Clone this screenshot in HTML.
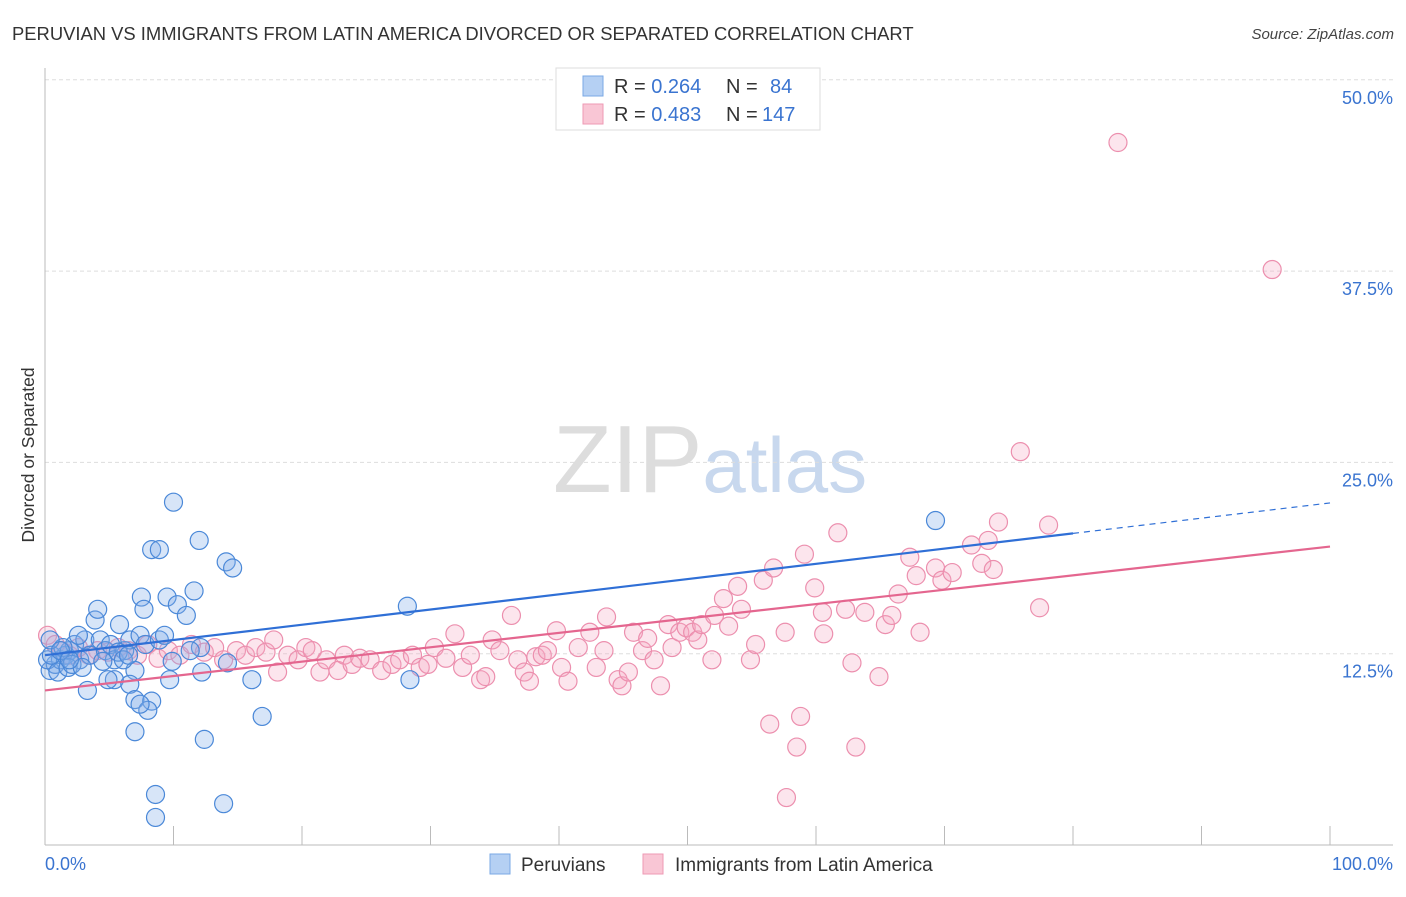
<!DOCTYPE html>
<html><head><meta charset="utf-8"><style>
body{margin:0;background:#fff;font-family:"Liberation Sans",sans-serif;}
svg text{font-family:"Liberation Sans",sans-serif;}
</style></head><body>
<svg id="chart" width="1406" height="892" xmlns="http://www.w3.org/2000/svg">
<text x="12" y="40" font-size="18.4" fill="#333">PERUVIAN VS IMMIGRANTS FROM LATIN AMERICA DIVORCED OR SEPARATED CORRELATION CHART</text>
<text x="1394" y="39" font-size="15" fill="#444" text-anchor="end" font-style="italic">Source: ZipAtlas.com</text>
<text x="553" y="492" font-size="96" fill="#ddd" font-family="Liberation Serif">ZIP<tspan fill="#c8d8ee" font-family="Liberation Sans" font-size="78">atlas</tspan></text>
<g id="grid"></g>
<g id="axes"></g>
<g id="pinkpts"></g>
<g id="bluepts"></g>
<g id="trends"></g>
<text transform="translate(34,455) rotate(-90)" font-size="17.5" fill="#333" text-anchor="middle">Divorced or Separated</text>
<text x="45" y="870" font-size="18" fill="#3a74d0">0.0%</text>
<text x="1393" y="870" font-size="18" fill="#3a74d0" text-anchor="end">100.0%</text>
<g>
<rect x="556" y="68" width="264" height="62" fill="#fff" stroke="#ddd"/>
<rect x="583" y="76" width="20" height="20" fill="#b5d0f3" stroke="#7aa8e4"/>
<rect x="583" y="104" width="20" height="20" fill="#f9c6d5" stroke="#ee9ab4"/>
<text x="614" y="93" font-size="20" fill="#333">R = <tspan fill="#3a74d0">0.264</tspan><tspan x="726">N = </tspan><tspan x="770" fill="#3a74d0">84</tspan></text>
<text x="614" y="121" font-size="20" fill="#333">R = <tspan fill="#3a74d0">0.483</tspan><tspan x="726">N = </tspan><tspan x="762" fill="#3a74d0">147</tspan></text>
</g>
<g>
<rect x="490" y="854" width="20" height="20" fill="#b5d0f3" stroke="#7aa8e4"/>
<text x="521" y="871" font-size="19" fill="#333">Peruvians</text>
<rect x="643" y="854" width="20" height="20" fill="#f9c6d5" stroke="#ee9ab4"/>
<text x="675" y="871" font-size="19" fill="#333">Immigrants from Latin America</text>
</g>
</svg>
<script>
const yTicks=[12.5,25,37.5,50];
const yTickLabels=["12.5%","25.0%","37.5%","50.0%"];
const blueX=[0.4,0.8,1.2,1.6,1.9,2.3,2.7,3.1,3.5,3.9,4.3,4.7,5.1,5.4,5.8,6.2,6.6,7.0,7.4,7.8,4.1,3.3,5.4,6.6,4.9,7.0,10.0,8.3,8.9,12.0,14.1,14.6,7.5,9.5,10.3,11.6,11.0,7.7,8.3,8.0,7.4,7.0,16.9,12.4,8.6,8.6,13.9,28.2,28.4,69.3,16.1,12.2,14.2,9.9,9.7,12.1,0.2,0.5,1.0,1.4,1.8,2.1,2.6,2.9,4.5,5.7,6.1,6.5,8.9,9.3,11.3,0.4,1.2,1.9];
const blueY=[11.4,11.8,12.1,12.4,12.7,13.1,12.1,13.4,12.4,14.7,13.4,12.7,13.1,12.1,14.4,12.7,13.4,11.4,13.7,13.1,15.4,10.1,10.8,10.5,10.8,9.5,22.4,19.3,19.3,19.9,18.5,18.1,16.2,16.2,15.7,16.6,15.0,15.4,9.4,8.8,9.2,7.4,8.4,6.9,3.3,1.8,2.7,15.6,10.8,21.2,10.8,11.3,11.9,12.0,10.8,12.9,12.1,12.4,11.3,12.9,11.6,11.8,13.7,11.6,12.0,12.6,12.1,12.4,13.4,13.7,12.7,13.4,12.7,12.1];
const pinkX=[0.2,0.8,1.3,1.9,2.6,3.4,4.1,4.9,5.7,6.5,7.2,8.0,8.8,9.6,10.5,11.4,12.4,13.2,13.9,14.9,15.6,16.4,17.2,17.8,18.1,18.9,19.7,20.3,20.8,21.4,21.9,22.8,23.3,23.9,24.5,25.3,26.2,27.0,27.6,28.6,29.2,29.8,30.3,31.2,31.9,32.5,33.1,33.9,34.3,34.8,35.4,36.3,36.8,37.3,37.7,38.2,38.7,39.1,39.8,40.2,40.7,41.5,42.4,42.9,43.5,43.7,44.6,44.9,45.4,45.8,46.5,46.9,47.4,47.9,48.5,48.8,49.4,49.9,50.4,50.8,51.1,51.9,52.1,52.8,53.2,53.9,54.2,54.9,55.3,55.9,56.4,56.7,57.6,57.7,58.5,58.8,59.1,59.9,60.5,60.6,61.7,62.3,62.8,63.1,63.8,64.9,65.4,65.9,66.4,67.3,67.8,68.1,69.3,69.8,70.6,72.1,72.9,73.4,73.8,74.2,75.9,77.4,78.1,83.5,95.5];
const pinkY=[13.7,13.1,12.7,12.4,12.9,12.4,12.7,12.6,12.9,12.7,12.4,13.1,12.2,12.7,12.4,13.1,12.6,12.9,12.1,12.7,12.4,12.9,12.6,13.4,11.3,12.4,12.1,12.9,12.7,11.3,12.1,11.4,12.4,11.8,12.2,12.1,11.4,11.8,12.1,12.4,11.6,11.8,12.9,12.2,13.8,11.6,12.4,10.8,11.0,13.4,12.7,15.0,12.1,11.3,10.7,12.3,12.4,12.7,14.0,11.6,10.7,12.9,13.9,11.6,12.7,14.9,10.8,10.4,11.3,13.9,12.7,13.5,12.1,10.4,14.4,12.9,13.9,14.2,13.9,13.4,14.4,12.1,15.0,16.1,14.3,16.9,15.4,12.1,13.1,17.3,7.9,18.1,13.9,3.1,6.4,8.4,19.0,16.8,15.2,13.8,20.4,15.4,11.9,6.4,15.2,11.0,14.4,15.0,16.4,18.8,17.6,13.9,18.1,17.3,17.8,19.6,18.4,19.9,18.0,21.1,25.7,15.5,20.9,45.9,37.6];
const blueTrend=[12.4,22.35], pinkTrend=[10.1,19.5];
const blueSolidEnd=80;
const NS="http://www.w3.org/2000/svg";
const X=v=>45+v*12.85, Y=v=>845-v*15.305;
function mk(tag,attrs,parent){const e=document.createElementNS(NS,tag);for(const k in attrs)e.setAttribute(k,attrs[k]);parent.appendChild(e);return e;}
const grid=document.getElementById('grid'),axes=document.getElementById('axes');
yTicks.forEach((t,i)=>{
 const l=mk('line',{x1:45,x2:1393,y1:Y(t),y2:Y(t),stroke:'#ddd','stroke-dasharray':'4,3'},grid);
 
 
 const tx=mk('text',{x:1393,y:Y(t)+24,'font-size':18,fill:'#3a74d0','text-anchor':'end'},grid);
 tx.textContent=yTickLabels[i];
 
 
});
mk('line',{x1:45,x2:45,y1:68,y2:845,stroke:'#bbb'},axes);
mk('line',{x1:45,x2:1393,y1:845,y2:845,stroke:'#bbb'},axes);
for(let i=1;i<=10;i++){const t=mk('line',{x1:X(i*10),x2:X(i*10),y1:826,y2:845,stroke:'#bbb'},axes);
 
 }
function pts(xs,ys,g,fill,stroke,name){xs.forEach((x,i)=>{const c=mk('circle',{cx:X(x),cy:Y(ys[i]),r:9,fill:fill,stroke:stroke,'stroke-width':1.2},g);
 
 });}
pts(pinkX,pinkY,document.getElementById('pinkpts'),'rgba(246,170,195,0.3)','#ec8fae','latin-america-point');
pts(blueX,blueY,document.getElementById('bluepts'),'rgba(130,175,232,0.32)','#4a88d8','peruvian-point');
const tr=document.getElementById('trends');
const by=v=>blueTrend[0]+(blueTrend[1]-blueTrend[0])*v/100;
const b1=mk('line',{x1:X(0),y1:Y(by(0)),x2:X(blueSolidEnd),y2:Y(by(blueSolidEnd)),stroke:'#2f6fd6','stroke-width':2.2},tr);


const b2=mk('line',{x1:X(blueSolidEnd),y1:Y(by(blueSolidEnd)),x2:X(100),y2:Y(by(100)),stroke:'#2f6fd6','stroke-width':1.2,'stroke-dasharray':'6,5'},tr);


const p1=mk('line',{x1:X(0),y1:Y(pinkTrend[0]),x2:X(100),y2:Y(pinkTrend[1]),stroke:'#e4668f','stroke-width':2.2},tr);


</script>
</body></html>
